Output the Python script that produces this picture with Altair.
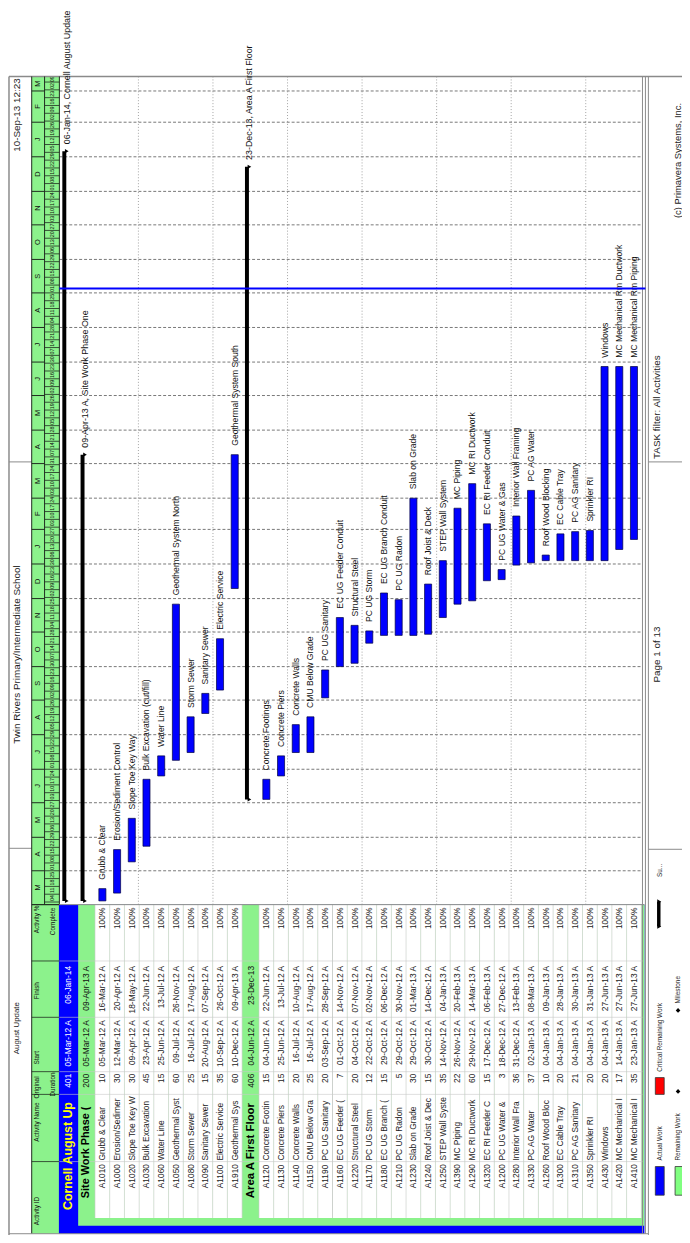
import altair as alt
import pandas as pd
import numpy as np
from datetime import date

# ---------------- values ----------------
run_stamp = "10-Sep-13 12:23"
project_name = "Twin Rivers Primary/Intermediate School"
layout_name = "August  Update"
data_date = "2013-09-05"

summary_table_names = ["Cornell August Up", "Site Work Phase (", "Area A First Floor"]
summary_bar_labels = ["06-Jan-14, Cornell  August Update",
                      "09-Apr-13 A, Site Work Phase One",
                      "23-Dec-13, Area A First Floor"]
summary_durations = [401, 200, 406]
summary_starts = ["2012-03-05", "2012-03-05", "2012-06-04"]
summary_finishes = ["2014-01-06", "2013-04-09", "2013-12-23"]
summary_finish_actual = [False, True, False]

ids1 = ["A1010", "A1000", "A1020", "A1030", "A1060", "A1050", "A1080", "A1090", "A1100", "A1910"]
names1 = ["Grubb & Clear", "Erosion/Sediment Control", "Slope Toe Key Way", "Bulk Excavation (cut/fill)",
          "Water Line", "Geothermal System North", "Storm Sewer", "Sanitary Sewer", "Electric Service",
          "Geothermal System South"]
table_names1 = ["Grubb & Clear", "Erosion/Sedimer", "Slope Toe Key W", "Bulk Excavation", "Water Line",
                "Geothermal Syst", "Storm Sewer", "Sanitary Sewer", "Electric Service", "Geothermal Sys"]
dur1 = [10, 30, 30, 45, 15, 60, 25, 15, 35, 60]
start1 = ["2012-03-05", "2012-03-12", "2012-04-09", "2012-04-23", "2012-06-25", "2012-07-09",
          "2012-07-16", "2012-08-20", "2012-09-10", "2012-12-10"]
finish1 = ["2012-03-16", "2012-04-20", "2012-05-18", "2012-06-22", "2012-07-13", "2012-11-26",
           "2012-08-17", "2012-09-07", "2012-10-26", "2013-04-09"]

ids2 = ["A1120", "A1130", "A1140", "A1150", "A1190", "A1160", "A1220", "A1170", "A1180", "A1210",
        "A1230", "A1240", "A1250", "A1390", "A1290", "A1320", "A1200", "A1280", "A1330", "A1260",
        "A1300", "A1310", "A1350", "A1430", "A1420", "A1410"]
names2 = ["Concrete Footings", "Concrete Piers", "Concrete Walls", "CMU Below Grade", "PC UG Sanitary",
          "EC UG Feeder Conduit", "Structural Steel", "PC UG Storm", "EC UG Branch Conduit", "PC UG Radon",
          "Slab on Grade", "Roof Joist & Deck", "STEP Wall System", "MC Piping", "MC RI Ductwork",
          "EC RI Feeder Conduit", "PC UG Water & Gas", "Interior Wall Framing", "PC AG Water",
          "Roof Wood Blocking", "EC Cable Tray", "PC AG Sanitary", "Sprinkler RI", "Windows",
          "MC Mechanical Rm Ductwork", "MC Mechanical Rm Piping"]
table_names2 = ["Concrete Footin", "Concrete Piers", "Concrete Walls", "CMU Below Gra", "PC UG Sanitary",
                "EC UG Feeder (", "Structural Steel", "PC UG Storm", "EC UG Branch (", "PC UG Radon",
                "Slab on Grade", "Roof Joist & Dec", "STEP Wall Syste", "MC Piping", "MC RI Ductwork",
                "EC RI Feeder C", "PC UG Water &", "Interior Wall Fra", "PC AG Water", "Roof Wood Bloc",
                "EC Cable Tray", "PC AG Sanitary", "Sprinkler RI", "Windows", "MC Mechanical I",
                "MC Mechanical I"]
dur2 = [15, 15, 20, 25, 20, 7, 20, 12, 15, 5, 30, 15, 35, 22, 60, 15, 3, 36, 37, 10, 20, 21, 20, 20, 17, 35]
start2 = ["2012-06-04", "2012-06-25", "2012-07-16", "2012-07-16", "2012-09-03", "2012-10-01",
          "2012-10-04", "2012-10-22", "2012-10-29", "2012-10-29", "2012-10-29", "2012-10-30",
          "2012-11-14", "2012-11-26", "2012-11-29", "2012-12-17", "2012-12-18", "2012-12-31",
          "2013-01-02", "2013-01-04", "2013-01-04", "2013-01-04", "2013-01-04", "2013-01-04",
          "2013-01-14", "2013-01-23"]
finish2 = ["2012-06-22", "2012-07-13", "2012-08-10", "2012-08-17", "2012-09-28", "2012-11-14",
           "2012-11-07", "2012-11-02", "2012-12-06", "2012-11-30", "2013-03-01", "2012-12-14",
           "2013-01-04", "2013-02-20", "2013-03-14", "2013-02-06", "2012-12-27", "2013-02-13",
           "2013-03-08", "2013-01-09", "2013-01-28", "2013-01-30", "2013-01-31", "2013-06-27",
           "2013-06-27", "2013-06-27"]
pct_complete = "100%"

header_labels = ["Activity ID", "Activity Name", "Original", "Duration", "Start", "Finish", "Activity %", "Complete"]
legend_labels = ["Actual Work", "Critical Remaining Work", "Su...", "Remaining Work", "Milestone"]
footer_texts = ["(c) Primavera Systems, Inc.", "TASK filter: All Activities", "Page 1 of 13"]

# ---------------- layout / style ----------------
W, H = 682, 1227
MG = 8
FONT = "Liberation Sans"
BLUE = "#0000FF"
GREEN = "#8CF28C"
GREY = "#8a8a8a"
DARK = "#1e2a1e"
LIGHT = "#c8c8c8"
REF = date(2012, 1, 1)


def dn(s):
    return (date.fromisoformat(str(s)[:10]) - REF).days


def fmt(s, actual=True):
    d = date.fromisoformat(s)
    return d.strftime("%d-%b-%y") + (" A" if actual else "")


T_START, T_END = "2012-03-02", "2014-03-14"
YT = alt.Scale(domain=[dn(T_START), dn(T_END)], range=[907.6 - MG, 70.0 - MG], zero=False, nice=False)
XR = alt.Scale(domain=[0, 36.15], range=[103.5 - MG, 641.4 - MG], zero=False, nice=False)
XP = alt.Scale(domain=[MG, MG + W], range=[0, W], zero=False, nice=False)
YP = alt.Scale(domain=[MG, MG + H], range=[0, H], zero=False, nice=False)


def xr(f):
    return alt.X(f + ":Q", scale=XR, axis=None)


def yt(f):
    return alt.Y(f + ":Q", scale=YT, axis=None)


def xp(f):
    return alt.X(f + ":Q", scale=XP, axis=None)


def yp(f):
    return alt.Y(f + ":Q", scale=YP, axis=None)


def vx(p):
    return alt.value(p - MG)


def vy(p):
    return alt.value(p - MG)


def rtext(**kw):
    base = dict(angle=270, baseline="middle", font=FONT)
    base.update(kw)
    return alt.Chart(kw.pop("data", None)) if False else base


L = []

# ---------------- rows ----------------
rows = []
for i in range(10):
    rows.append(dict(u=float(i), id=ids1[i], tname=table_names1[i], label=names1[i], dur=dur1[i],
                     s=start1[i], f=finish1[i]))
for j in range(26):
    rows.append(dict(u=11.15 + j, id=ids2[j], tname=table_names2[j], label=names2[j], dur=dur2[j],
                     s=start2[j], f=finish2[j]))
acts = pd.DataFrame(rows)
acts["sd"] = acts.s.map(dn)
acts["fd"] = acts.f.map(dn)
acts["u0"] = acts.u - 0.24
acts["u1"] = acts.u + 0.24
acts["c0"] = acts.u - 0.5
acts["c1"] = acts.u + 0.5

summ = pd.DataFrame(dict(u=[-2.32, -1.08, 10.1], name=summary_table_names, label=summary_bar_labels,
                         dur=summary_durations, s=summary_starts, f=summary_finishes,
                         fa=summary_finish_actual))
summ["sd"] = summ.s.map(dn)
summ["fd"] = summ.f.map(dn)

# ---------------- backgrounds ----------------
bg = pd.DataFrame([
    dict(x=32, x2=60, y=70, y2=1241, c=GREEN),
    dict(x=59.5, x2=652, y=908, y2=1241, c=BLUE),
    dict(x=79, x2=652, y=908, y2=1233, c=GREEN),
])
L.append(alt.Chart(bg).mark_rect().encode(x=xp("x"), x2="x2:Q", y=yp("y"), y2="y2:Q",
                                            color=alt.Color("c:N", scale=None)))
L.append(alt.Chart(acts).mark_rect(color="white").encode(x=xr("c0"), x2="c1:Q", y=vy(908), y2=vy(1225)))

# ---------------- time grid ----------------
month_starts = pd.date_range("2012-04-01", "2014-03-01", freq="MS")
mgrid = pd.DataFrame(dict(d=[dn(m.date().isoformat()) for m in month_starts]))
L.append(alt.Chart(mgrid).mark_rule(color="#555555", strokeWidth=0.8, strokeDash=[3, 2]).encode(
    y=yt("d"), x=vx(60), x2=vx(650)))
vgrid = pd.DataFrame(dict(u=[2.45 + 5.07 * k for k in range(7)]))
L.append(alt.Chart(vgrid).mark_rule(color="#8c8c8c", strokeWidth=0.8, strokeDash=[1, 2]).encode(
    x=xr("u"), y=vy(70), y2=vy(908)))

# ---------------- timescale header ----------------
all_months = pd.date_range("2012-03-01", "2014-03-01", freq="MS")
t0, t1 = dn(T_START), dn(T_END)
mrows = []
for m in all_months:
    a = dn(m.date().isoformat())
    b = dn((m + pd.offsets.MonthBegin(1)).date().isoformat())
    a2, b2 = max(a, t0), min(b, t1)
    mrows.append(dict(a=a, mid=(a2 + b2) / 2, t=m.strftime("%b")[0]))
mh = pd.DataFrame(mrows)
L.append(alt.Chart(mh[mh.a > t0]).mark_rule(color=DARK, strokeWidth=1).encode(
    y=yt("a"), x=vx(32), x2=vx(45)))
L.append(alt.Chart(mh).mark_text(angle=270, baseline="middle", align="center", font=FONT, fontSize=7.5,
                                 color="#111").encode(y=yt("mid"), x=vx(38.5), text="t:N"))
sundays = pd.date_range("2012-02-26", "2014-03-09", freq="7D")
wrows = []
for s in sundays:
    a = dn(s.date().isoformat())
    a2, b2 = max(a, t0), min(a + 7, t1)
    wrows.append(dict(a=a, mid=(a2 + b2) / 2, span=b2 - a2, t=f"{s.day:02d}"))
wh = pd.DataFrame(wrows)
L.append(alt.Chart(wh[wh.a > t0]).mark_rule(color=DARK, strokeWidth=0.8).encode(
    y=yt("a"), x=vx(45), x2=vx(60)))
L.append(alt.Chart(wh[wh.span >= 4]).mark_text(angle=270, baseline="middle", align="center", font=FONT,
                                               fontSize=5.5, color="#111").encode(
    y=yt("mid"), x=vx(52.5), text="t:N"))

# ---------------- frame lines ----------------
COLS = [965, 1022, 1077, 1100, 1168]
lines = [
    (9, 690, 70, 70, GREY, 1.5), (9, 9, 70, 1243, GREY, 1.5),
    (9, 32, 460, 460, GREY, 1), (9, 32, 851, 851, GREY, 1),
    (32, 32, 70, 1241, DARK, 1), (45, 45, 70, 908, DARK, 1), (60, 60, 70, 908, DARK, 1),
    (32, 60, 908, 908, DARK, 1.2), (60, 652, 908, 908, GREY, 1),
    (650, 650, 70, 1241, GREY, 1), (653, 653, 70, 1241, GREY, 1), (656, 656, 70, 1243, GREY, 1),
    (656, 690, 460, 460, GREY, 1), (656, 690, 852, 852, GREY, 1), (9, 656, 1241, 1241, GREY, 1),
]
for c in COLS:
    lines.append((32, 60, c, c, DARK, 0.8))
    lines.append((60, 650, c, c, LIGHT, 0.6))
ln = pd.DataFrame(lines, columns=["x", "x2", "y", "y2", "c", "w"])
rowsep = pd.DataFrame(dict(u=sorted(set(list(acts.c0) + list(acts.c1)))))
L.append(alt.Chart(rowsep).mark_rule(color=LIGHT, strokeWidth=0.6).encode(x=xr("u"), y=vy(908), y2=vy(1225)))
L.append(alt.Chart(ln).mark_rule().encode(x=xp("x"), x2="x2:Q", y=yp("y"), y2="y2:Q",
                                          color=alt.Color("c:N", scale=None),
                                          strokeWidth=alt.StrokeWidth("w:Q", scale=None)))

# ---------------- table text ----------------
left_cells, right_cells = [], []
for r in acts.itertuples():
    left_cells += [dict(u=r.u, y=1195, t=r.id), dict(u=r.u, y=1167, t=r.tname)]
    right_cells += [dict(u=r.u, y=1079, t=str(r.dur)), dict(u=r.u, y=1025, t=fmt(r.s)),
                    dict(u=r.u, y=970, t=fmt(r.f)), dict(u=r.u, y=911, t=pct_complete)]
L.append(alt.Chart(pd.DataFrame(left_cells)).mark_text(angle=270, baseline="middle", align="left", font=FONT,
                                                       fontSize=8.5, color="#222").encode(
    x=xr("u"), y=yp("y"), text="t:N"))
L.append(alt.Chart(pd.DataFrame(right_cells)).mark_text(angle=270, baseline="middle", align="right", font=FONT,
                                                        fontSize=8.5, color="#222").encode(
    x=xr("u"), y=yp("y"), text="t:N"))
sname = pd.DataFrame(dict(u=summ.u, y=[1217, 1205, 1205], t=summ.name, c=["#FFFF00", "#000000", "#000000"],
                          s=[12.5, 11, 11.5]))
L.append(alt.Chart(sname).mark_text(angle=270, baseline="middle", align="left", font=FONT,
                                    fontWeight="bold").encode(
    x=xr("u"), y=yp("y"), text="t:N", color=alt.Color("c:N", scale=None), size=alt.Size("s:Q", scale=None)))
sr = []
for r, col in zip(summ.itertuples(), ["#FFFFFF", "#111111", "#111111"]):
    sr += [dict(u=r.u, y=1079, t=str(r.dur), c=col), dict(u=r.u, y=1025, t=fmt(r.s), c=col),
           dict(u=r.u, y=970, t=fmt(r.f, r.fa), c=col)]
L.append(alt.Chart(pd.DataFrame(sr)).mark_text(angle=270, baseline="middle", align="right", font=FONT,
                                               fontSize=8.5).encode(
    x=xr("u"), y=yp("y"), text="t:N", color=alt.Color("c:N", scale=None)))

# header labels
hl = pd.DataFrame(dict(t=header_labels, x=[37, 37, 37, 54, 37, 37, 37, 54],
                       y=[1218, 1128, 1093, 1090, 1063, 995, 923, 925]))
L.append(alt.Chart(hl).mark_text(angle=270, baseline="middle", align="center", font=FONT, fontSize=6.5,
                                 color="#111").encode(x=xp("x"), y=yp("y"), text="t:N"))

# ---------------- bars ----------------
L.append(alt.Chart(acts).mark_rect(fill=BLUE, stroke="#000040", strokeWidth=0.7).encode(
    x=xr("u0"), x2="u1:Q", y=yt("sd"), y2="fd:Q"))
L.append(alt.Chart(acts).mark_text(angle=270, baseline="middle", align="left", font=FONT, fontSize=8.7,
                                   dx=9, color="#111").encode(x=xr("u"), y=yt("fd"), text="label:N"))
L.append(alt.Chart(summ).mark_rule(color="black", strokeWidth=4, xOffset=-4).encode(
    x=xr("u"), y=yt("sd"), y2="fd:Q"))
caps = pd.concat([summ[["u", "sd"]].rename(columns={"sd": "d"}), summ[["u", "fd"]].rename(columns={"fd": "d"})])
L.append(alt.Chart(caps).mark_point(shape="triangle-right", filled=True, size=18, color="black", opacity=1,
                                    xOffset=-1.5).encode(x=xr("u"), y=yt("d")))
L.append(alt.Chart(summ).mark_text(angle=270, baseline="middle", align="left", font=FONT, fontSize=9,
                                   dx=7, xOffset=-1.5, color="#111").encode(x=xr("u"), y=yt("fd"), text="label:N"))

# data date
L.append(alt.Chart(pd.DataFrame(dict(d=[dn(data_date)]))).mark_rule(color=BLUE, strokeWidth=2).encode(
    y=yt("d"), x=vx(60), x2=vx(653)))

# ---------------- side strips ----------------
side = pd.DataFrame(dict(t=[run_stamp, project_name, layout_name, footer_texts[0], footer_texts[2]],
                         x=[17, 17, 17, 686, 665], y=[109, 655, 1033, 155, 655],
                         s=[10, 10, 8, 9.5, 10]))
L.append(alt.Chart(side).mark_text(angle=270, baseline="middle", align="center", font=FONT,
                                   color="#222").encode(x=xp("x"), y=yp("y"), text="t:N",
                                                        size=alt.Size("s:Q", scale=None)))
side2 = pd.DataFrame(dict(t=[footer_texts[1]] + legend_labels,
                          x=[665, 668, 668, 668, 686, 686], y=[457, 1167, 1077, 880, 1167, 1008],
                          s=[10, 6.5, 6.5, 6.5, 6.5, 6.5]))
L.append(alt.Chart(side2).mark_text(angle=270, baseline="middle", align="left", font=FONT,
                                    color="#222").encode(x=xp("x"), y=yp("y"), text="t:N",
                                                         size=alt.Size("s:Q", scale=None)))
lg = pd.DataFrame([dict(x=663, x2=672, y=1173, y2=1202, c=BLUE), dict(x=663, x2=672, y=1083, y2=1100, c="#FF0000"),
                   dict(x=683, x2=692, y=1173, y2=1202, c="#80FF80")])
L.append(alt.Chart(lg).mark_rect(stroke="#333", strokeWidth=0.8).encode(
    x=xp("x"), x2="x2:Q", y=yp("y"), y2="y2:Q", color=alt.Color("c:N", scale=None)))
L.append(alt.Chart(pd.DataFrame(dict(x=[666.5], y=[905], y2=[930]))).mark_rule(color="black", strokeWidth=3.5).encode(
    x=xp("x"), y=yp("y"), y2="y2:Q"))
L.append(alt.Chart(pd.DataFrame(dict(x=[667, 667, 686, 686], y=[905, 930, 1097, 1015],
                                     sh=["triangle-right", "triangle-right", "diamond", "diamond"]))).mark_point(
    filled=True, color="black", opacity=1, size=22).encode(x=xp("x"), y=yp("y"),
                                                          shape=alt.Shape("sh:N", scale=None)))

chart = alt.layer(*L).resolve_scale(x="independent", y="independent").properties(
    width=W, height=H, padding=0, autosize=alt.AutoSizeParams(type="none"), background="white"
).configure_view(strokeWidth=0)

chart.save("out.html", embed_options={"renderer": "svg", "actions": False})
